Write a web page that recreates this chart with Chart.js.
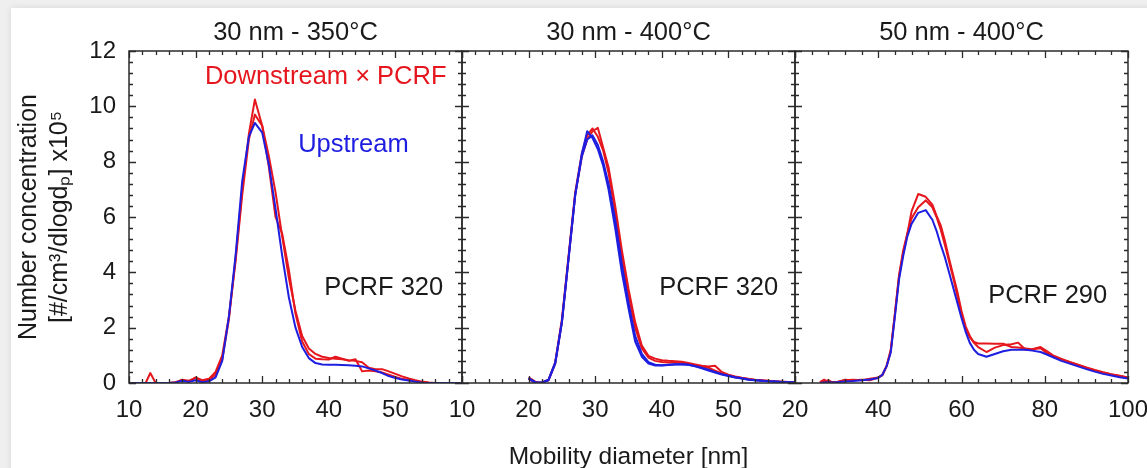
<!DOCTYPE html>
<html><head><meta charset="utf-8">
<script src="https://cdn.jsdelivr.net/npm/chart.js@4.4.0/dist/chart.umd.min.js"></script>
<style>
html,body{margin:0;padding:0;width:1147px;height:468px;overflow:hidden;background:#efefef;}
#card{position:absolute;left:11px;top:8px;width:1300px;height:600px;background:#fff;box-shadow:0 0 7px rgba(0,0,0,0.10);}
canvas{position:absolute;left:0;top:0;}
</style></head><body>
<div id="card"></div>
<canvas id="c1" width="1200" height="480"></canvas>
<canvas id="c2" width="1200" height="480"></canvas>
<canvas id="c3" width="1200" height="480"></canvas>
<script>
// ---------- data ----------
const TITLES = ['30 nm - 350°C', '30 nm - 400°C', '50 nm - 400°C'];
const Y_TITLE = ['Number concentration', '[#/cm³/dlogdₚ] x10⁵'];
const X_TITLE = 'Mobility diameter [nm]';
const Y_TICKS = [0, 2, 4, 6, 8, 10, 12];
const X_TICKS_1 = [10, 20, 30, 40, 50];
const X_TICKS_2 = [10, 20, 30, 40, 50];
const X_TICKS_3 = [20, 40, 60, 80, 100];

// Panel 1: 30 nm - 350°C
const P1_D = [10,11,12,12.5,13.2,14,15,16,17,18,19,20,21,22,23,24,25,26,27,28,28.9,30,31,32,33,34,35,36,37,38,39,40,41,42,43,44,45,46,47,48,49,50,51,52,53,54,55,56,58,60];
const P1_UP = [0,0,0,0,0,0,0,0,0.02,0.08,0.04,0.1,0.03,0.06,0.2,0.8,2.4,4.6,7.3,8.9,9.4,9.05,7.9,6.3,4.6,3.1,2.0,1.3,0.9,0.72,0.67,0.66,0.66,0.65,0.64,0.62,0.6,0.53,0.45,0.36,0.25,0.18,0.13,0.09,0.05,0.01,0,0,0,0];
const P1_DN1 = [0,0,0,0,0.36,0,0,0,0.03,0.12,0.08,0.18,0.05,0.12,0.3,0.85,2.3,4.5,7.0,9.0,10.25,9.3,8.2,6.9,5.3,3.8,2.6,1.7,1.25,1.05,0.95,0.9,0.88,0.86,0.82,0.8,0.75,0.55,0.5,0.5,0.42,0.33,0.24,0.16,0.1,0.05,0.02,0,0,0];
const P1_DN2 = [0,0,0,0,0,0,0,0,0.02,0.1,0.05,0.2,0.1,0.15,0.4,1.0,2.4,4.4,6.8,8.8,9.7,9.3,7.8,6.0,5.4,4.1,2.5,1.5,1.05,0.88,0.86,0.85,0.95,0.88,0.8,0.86,0.42,0.45,0.42,0.38,0.3,0.22,0.15,0.1,0.06,0.03,0.01,0,0,0];

// Panel 2: 30 nm - 400°C
const P2_D = [20,21,22,23,24,25,26,27,28,28.8,29.6,30.4,31.2,32,33,34,35,36,37,38,39,40,41,42,43,44,45,46,47,48,49,50,51,52,53,54,55,56,57,58,59,60];
const P2_UP1 = [0.18,0.03,0.02,0.12,0.75,2.2,4.5,6.8,8.3,9.1,8.85,8.45,7.85,7.0,5.6,4.0,2.7,1.5,0.95,0.7,0.63,0.63,0.65,0.67,0.68,0.66,0.6,0.53,0.45,0.38,0.31,0.25,0.2,0.16,0.12,0.1,0.08,0.06,0.05,0.04,0.03,0.02];
const P2_UP2 = [0.15,0.02,0.01,0.1,0.7,2.2,4.5,6.8,8.2,8.8,8.95,8.6,8.0,7.2,5.9,4.3,2.9,1.7,1.05,0.75,0.66,0.64,0.66,0.68,0.68,0.66,0.61,0.55,0.48,0.4,0.32,0.26,0.21,0.17,0.13,0.1,0.08,0.06,0.05,0.04,0.03,0.02];
const P2_DN1 = [0.2,0.05,0.0,0.1,0.7,2.2,4.5,6.8,8.2,8.8,9.1,9.22,8.5,7.8,6.4,4.8,3.4,2.2,1.35,0.98,0.88,0.82,0.8,0.79,0.77,0.72,0.67,0.62,0.6,0.62,0.4,0.3,0.24,0.19,0.15,0.12,0.1,0.08,0.06,0.05,0.04,0.03];
const P2_DN2 = [0.15,0.0,0.02,0.12,0.75,2.3,4.6,6.9,8.3,8.95,9.2,8.9,8.4,7.6,6.2,4.6,3.2,2.0,1.25,0.92,0.8,0.76,0.74,0.74,0.73,0.7,0.64,0.58,0.55,0.45,0.35,0.28,0.22,0.18,0.14,0.11,0.09,0.07,0.05,0.04,0.03,0.02];

// Panel 3: 50 nm - 400°C
const P3_D = [26,27,28,29,30,32,34,36,38,40,41,42,43,44,45,46,47,48,49.6,51.4,53,54,55,56,57,58,59,60,61,62,63,64,66,68,70,72,73.6,75.4,77,79,80.5,82,84,86,88,90,92,94,96,98,100];
const P3_UP = [0,0.02,0.03,0.02,0.03,0.05,0.07,0.1,0.13,0.18,0.3,0.6,1.1,2.4,3.75,4.6,5.3,5.75,6.15,6.25,5.9,5.5,5.0,4.55,4.0,3.45,2.9,2.35,1.85,1.45,1.2,1.05,0.95,1.05,1.15,1.2,1.2,1.2,1.17,1.12,1.03,0.93,0.8,0.7,0.6,0.5,0.41,0.33,0.27,0.21,0.16];
const P3_DN1 = [0.03,0.12,0.02,0.04,0.02,0.12,0.1,0.12,0.1,0.2,0.28,0.6,1.15,2.5,3.9,4.8,5.4,6.2,6.83,6.73,6.45,6.05,5.7,5.15,4.5,3.9,3.3,2.6,2.05,1.7,1.45,1.3,1.12,1.28,1.37,1.4,1.46,1.2,1.22,1.26,1.08,0.98,0.86,0.75,0.65,0.55,0.46,0.38,0.31,0.25,0.2];
const P3_DN2 = [0.02,0.05,0.1,0.02,0.04,0.1,0.12,0.1,0.15,0.2,0.3,0.62,1.2,2.5,3.85,4.7,5.4,5.95,6.35,6.6,6.35,6.0,5.55,5.0,4.4,3.8,3.15,2.5,1.95,1.65,1.48,1.43,1.43,1.42,1.42,1.3,1.28,1.25,1.22,1.3,1.15,1.0,0.87,0.76,0.66,0.56,0.47,0.39,0.32,0.26,0.2];

// ---------- style ----------
const FONT = '"Liberation Sans", Arial, Helvetica, sans-serif';
const RED = '#e5161d', BLUE = '#1e1ee0', INK = '#1a1a1a';
const W = 1200, H = 480;
const AREA_BOTTOM = 383;
const PANEL_EDGES = [[129, 462], [462, 795], [795, 1128]];

const pts = (xs, ys) => xs.map((x, i) => ({x, y: ys[i]}));
const line = (xs, ys, c) => ({data: pts(xs, ys), borderColor: c, borderWidth: 2, pointRadius: 0, tension: 0, fill: false, borderJoinStyle: 'round'});

const frameTicks = {
  id: 'frameTicks',
  afterDatasetsDraw(chart, args, o) {
    const {ctx, chartArea: a, scales: {x, y}} = chart;
    ctx.save();
    ctx.strokeStyle = '#2b2b2b';
    ctx.lineWidth = 1.3;
    ctx.beginPath();
    const MAJ = 7, MIN = 4;
    const n = Math.round((x.max - x.min) / o.xMinor);
    for (let i = 0; i <= n; i++) {
      const v = x.min + i * o.xMinor;
      const r = v / o.xMajor;
      const L = Math.abs(r - Math.round(r)) < 1e-6 ? MAJ : MIN;
      const px = Math.round(x.getPixelForValue(v)) + 0.5;
      ctx.moveTo(px, a.bottom); ctx.lineTo(px, a.bottom - L);
      ctx.moveTo(px, a.top); ctx.lineTo(px, a.top + L);
    }
    const m = Math.round((y.max - y.min) / o.yMinor);
    for (let i = 0; i <= m; i++) {
      const v = y.min + i * o.yMinor;
      const r = v / o.yMajor;
      const L = Math.abs(r - Math.round(r)) < 1e-6 ? MAJ : MIN;
      const py = Math.round(y.getPixelForValue(v)) + 0.5;
      ctx.moveTo(a.left, py); ctx.lineTo(a.left + L, py);
      ctx.moveTo(a.right, py); ctx.lineTo(a.right - L, py);
    }
    ctx.stroke();
    ctx.lineWidth = 1.5;
    ctx.strokeRect(a.left, a.top, a.right - a.left, a.bottom - a.top);
    ctx.restore();
  }
};

const notes = {
  id: 'notes',
  afterDraw(chart, args, o) {
    const {ctx, scales: {x, y}} = chart;
    ctx.save();
    ctx.font = '25.5px ' + FONT;
    ctx.textAlign = 'left';
    ctx.textBaseline = 'middle';
    for (const n of o.items) {
      ctx.fillStyle = n.color;
      ctx.fillText(n.text, x.getPixelForValue(n.x), y.getPixelForValue(n.y));
    }
    ctx.restore();
  }
};

function makeChart(id, idx, datasets, xMin, xMax, xTicks, xMinor, xMajor, showY, xTitle, noteItems) {
  const [L, R] = PANEL_EDGES[idx];
  const tickFont = {family: FONT, size: 24};
  return new Chart(document.getElementById(id), {
    type: 'line',
    data: {datasets},
    options: {
      responsive: false, animation: false, events: [], devicePixelRatio: 1,
      layout: {padding: {left: showY ? 0 : L, right: W - R, top: 0, bottom: 0}},
      plugins: {
        legend: {display: false}, tooltip: {enabled: false},
        title: {display: true, text: TITLES[idx], fullSize: false, color: INK,
                font: {family: FONT, size: 25.5, weight: 'normal', lineHeight: 1.2},
                padding: {top: 18, bottom: 2.4}},
        frameTicks: {xMinor, xMajor, yMinor: 0.4, yMajor: 2},
        notes: {items: noteItems}
      },
      scales: {
        x: {
          type: 'linear', min: xMin, max: xMax,
          afterBuildTicks: s => { s.ticks = xTicks.map(v => ({value: v})); },
          afterFit: s => { s.height = H - AREA_BOTTOM; },
          grid: {display: false, drawTicks: false}, border: {display: false},
          ticks: {font: tickFont, color: INK, padding: 13, autoSkip: false, maxRotation: 0},
          title: xTitle ? {display: true, text: xTitle, color: INK,
                  font: {family: FONT, size: 24.5, lineHeight: 1.2}, padding: {top: 0, bottom: 8}} : {display: false}
        },
        y: {
          type: 'linear', min: 0, max: 12, display: showY,
          afterBuildTicks: s => { s.ticks = Y_TICKS.map(v => ({value: v})); },
          afterFit: s => { s.width = showY ? L : 0; },
          grid: {display: false, drawTicks: false}, border: {display: false},
          ticks: {font: tickFont, color: INK, padding: 13},
          title: {display: showY, text: Y_TITLE, color: INK,
                  font: {family: FONT, size: 25, lineHeight: 1.25}, padding: {top: 13, bottom: 0}}
        }
      }
    },
    plugins: [frameTicks, notes]
  });
}

makeChart('c1', 0, [
  line(P1_D, P1_UP, BLUE), line(P1_D, P1_DN1, RED), line(P1_D, P1_DN2, RED)
], 10, 60, X_TICKS_1, 2, 10, true, null, [
  {text: 'Downstream × PCRF', x: 21.4, y: 11.06, color: RED},
  {text: 'Upstream', x: 35.4, y: 8.6, color: BLUE},
  {text: 'PCRF 320', x: 39.3, y: 3.45, color: INK}
]);

makeChart('c2', 1, [
  line(P2_D, P2_UP1, BLUE), line(P2_D, P2_UP2, BLUE), line(P2_D, P2_DN1, RED), line(P2_D, P2_DN2, RED)
], 10, 60, X_TICKS_2, 2, 10, false, X_TITLE, [
  {text: 'PCRF 320', x: 39.6, y: 3.45, color: INK}
]);

makeChart('c3', 2, [
  line(P3_D, P3_UP, BLUE), line(P3_D, P3_DN1, RED), line(P3_D, P3_DN2, RED)
], 20, 100, X_TICKS_3, 4, 20, false, null, [
  {text: 'PCRF 290', x: 66.4, y: 3.13, color: INK}
]);
</script>
</body></html>
